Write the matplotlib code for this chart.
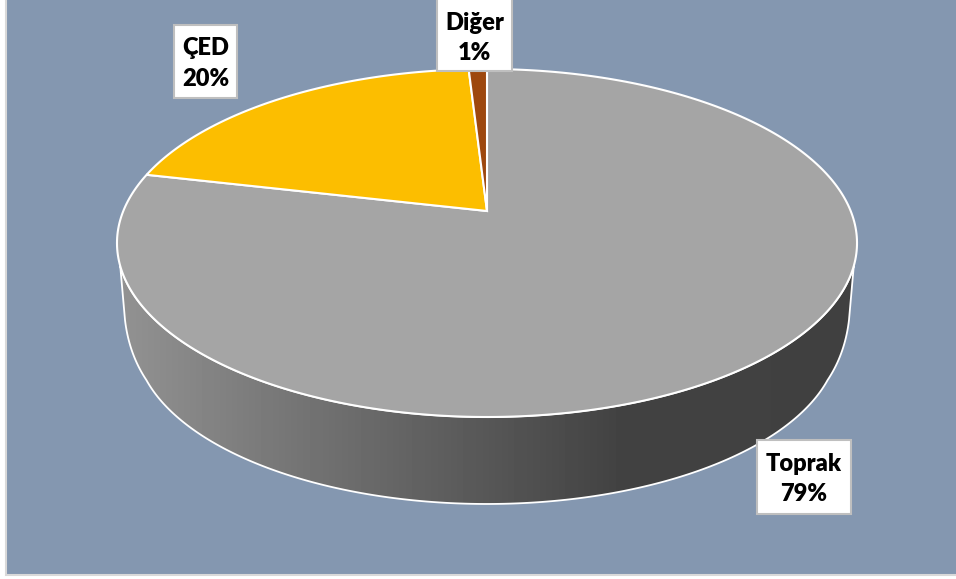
import numpy as np
import matplotlib
matplotlib.use("Agg")
import matplotlib.pyplot as plt
from matplotlib.patches import Polygon, Rectangle

categories = ["Toprak", "ÇED", "Diğer"]
values = [78.6, 20.45, 0.95]
colors = ["#A5A5A5", "#FCBE00", "#9E480E"]

# label boxes in pixels: left, top, right, bottom
label_boxes = [(757, 440, 851, 514), (174, 25, 237, 98), (437, -5, 512, 71)]

# perspective of the pie disc
APEX_X, APEX_Y = 487, 211
DISC_A, DISC_P, DISC_K = 363.7, 168.1, 0.184
FLOOR_SCALE, FLOOR_DROP = 0.951, 95.5
DISC_CENTRE = 32


def project(t, floor=False):
    # unit circle angle (radians) to pixel position
    w = 1 + DISC_K * np.sin(t)
    x = DISC_A * np.cos(t) / w
    y = DISC_P * np.sin(t) / w
    if floor:
        return (APEX_X + x * FLOOR_SCALE,
                APEX_Y + FLOOR_DROP + DISC_CENTRE - (y + DISC_CENTRE) * FLOOR_SCALE)
    return APEX_X + x, APEX_Y - y


def bend(p0, p1, p2, n=20):
    # quadratic curve for the rounded floor corners
    s = np.linspace(0, 1, n)[:, np.newaxis]
    return (1 - s) ** 2 * np.array(p0) + 2 * s * (1 - s) * np.array(p1) + s ** 2 * np.array(p2)


def main() -> None:
    fig = plt.figure(figsize=(9.56, 5.79), dpi=100)
    ax = fig.add_axes([0, 0, 1, 1])
    ax.axis("off")

    ax.add_patch(Rectangle((6, -5), 960, 580, facecolor="#8497B0", edgecolor="#D9D9D9", linewidth=1.5))

    # side wall with its gradient
    topArc = np.radians(np.linspace(198, 342, 200))
    floorArc = np.radians(np.linspace(335.4, 204.6, 200))
    top = np.column_stack(project(topArc))
    floor = np.column_stack(project(floorArc, floor=True))
    rightBend = bend((849, 320), (845, 354), floor[0])
    leftBend = bend(floor[-1], (129, 354), (125, 320))
    wall = Polygon(np.vstack([top, rightBend, floor, leftBend]), closed=True, facecolor="none",
                   edgecolor="white", linewidth=1.3, zorder=3)
    ax.add_patch(wall)
    gradX = np.arange(110, 870)
    shade = np.interp(gradX, [120, 300, 480, 620, 860], [0x92, 0x74, 0x58, 0x42, 0x40])
    img = ax.imshow(shade[np.newaxis, :], cmap="gray", vmin=0, vmax=255, aspect="auto",
                    extent=(110, 870, 520, 230), zorder=2)
    img.set_clip_path(wall)

    # top of the pie, clockwise from twelve o'clock
    total = sum(values)
    start = 0.0
    for value, color in zip(values, colors):
        angles = np.radians(90 - 360 * np.linspace(start, start + value, 300) / total)
        x, y = project(angles)
        pts = np.column_stack([np.r_[APEX_X, x], np.r_[APEX_Y, y]])
        ax.add_patch(Polygon(pts, closed=True, facecolor=color, edgecolor="white",
                             linewidth=1.5, joinstyle="miter", zorder=4))
        start += value

    # data labels
    for name, value, box in zip(categories, values, label_boxes):
        left, top_, right, bottom = box
        ax.add_patch(Rectangle((left, top_), right - left, bottom - top_, facecolor="white",
                               edgecolor="#BFBFBF", linewidth=1.5, zorder=5))
        ax.text((left + right) / 2, (max(top_, 1) + bottom) / 2 + 2,
                f"{name}\n{round(100 * value / total)}%", family="Lato", weight="heavy", fontsize=17,
                color="black", ha="center", va="center", linespacing=1.45, zorder=6)

    ax.set_xlim(0, 956)
    ax.set_ylim(579, 0)
    fig.savefig("out.png", dpi=100)


if __name__ == "__main__":
    main()
